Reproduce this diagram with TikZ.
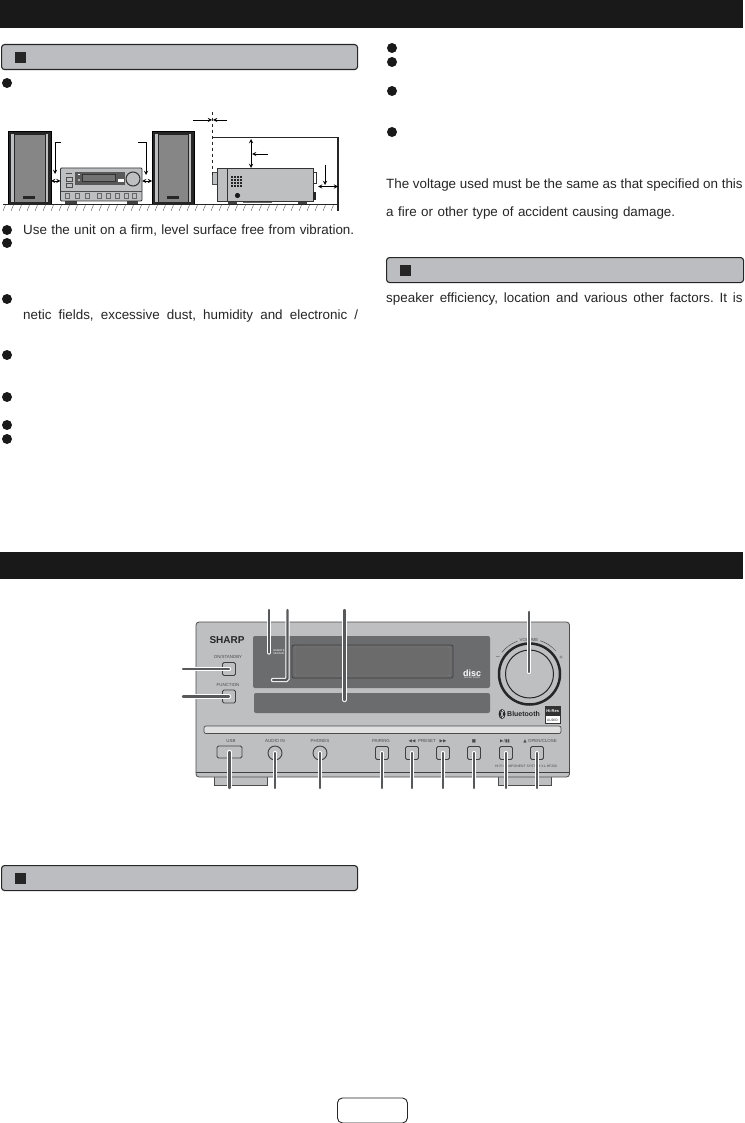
\documentclass[tikz,border=0pt]{standalone}
\usepackage{fontspec}
\setmainfont{Liberation Sans}
\newfontfamily\symfont{DejaVu Sans}
\usetikzlibrary{positioning}
\definecolor{bandgrey}{HTML}{BBBDC0}
\definecolor{panelgrey}{HTML}{BEBFC1}
\definecolor{dispgrey}{HTML}{6B6C6E}
\definecolor{leadgrey}{HTML}{58595B}
\tikzset{blackbar/.style={fill=black!90,anchor=north west,minimum width=743pt,minimum height=28pt,inner sep=0},
         header/.style={draw=black!85,fill=bandgrey,line width=1.1pt,rounded corners=3pt,anchor=north west,minimum height=25pt,inner sep=0},
         hsquare/.style={fill=black!85,minimum size=11pt,inner sep=0},
         bullet/.style={circle,fill=black!90,minimum size=10pt,inner sep=0},
         bodytext/.style={anchor=base west,inner sep=0,font=\frenchspacing\fontsize{13.4}{15}\selectfont,text=black!85},
         keybtn/.style={draw=black!75,fill=panelgrey,line width=.8pt,rounded corners=1.5pt,minimum width=13pt,minimum height=13pt,inner sep=0},
         jack/.style={circle,draw=black!75,fill=panelgrey,line width=.9pt,minimum size=14pt,inner sep=0},
         tinytext/.style={font=\fontsize{4.4}{5}\selectfont,text=black!70,inner sep=0},
         leader/.style={draw=white,double=leadgrey,double distance=2.4pt,line width=1pt,line cap=round,rounded corners=1.5pt},
         unitline/.style={draw=black!80,line width=.9pt}
}
\tikzstyle{arrow} = [line width=.9pt,->,>=stealth]
\tikzstyle{twoway} = [line width=.9pt,<->,>=stealth]

\begin{document}
\begin{tikzpicture}[x=1pt,y=-1pt]

\useasboundingbox[fill=white] (0,0) rectangle (744,1123);

% bars and headers
\node[blackbar] (topbar) at (0,0) {};
\node[blackbar,minimum height=27pt] (partsbar) at (0,552) {};
\node[header,minimum width=356pt] (headone) at (1,44) {};
\node[hsquare,right=14pt of headone.west] (squareone) {};
\node[header,minimum width=357pt] (headtwo) at (386,257) {};
\node[hsquare,right=14pt of headtwo.west] (squaretwo) {};
\node[header,minimum width=356pt] (headthree) at (1,865) {};
\node[hsquare,right=14pt of headthree.west] (squarethree) {};
\node[draw=black!85,line width=.9pt,rounded corners=5pt,minimum width=70pt,minimum height=25pt,anchor=north west] (pagebox) at (337,1097.5) {};

% bullets
\foreach \y [count=\i] in {83,230,243,299,355,397,425,439}
  \node[bullet] (bulletl\i) at (7,\y) {};
\foreach \y [count=\i] in {48,62,91,132}
  \node[bullet] (bulletr\i) at (392,\y) {};

% texts
\node[bodytext] (firm) at (23,235) {\makebox[331pt][s]{Use the unit on a firm, level surface free from vibration.}};
\node[bodytext] (netic) at (23,319) {\makebox[335pt][s]{netic fields, excessive dust, humidity and electronic /}};
\node[bodytext] (voltage) at (386,189) {\makebox[356.5pt][s]{The voltage used must be the same as that specified on this}};
\node[bodytext] (fire) at (386,217) {\makebox[289pt][s]{a fire or other type of accident causing damage.}};
\node[bodytext] (speaker) at (386,302) {\makebox[356.5pt][s]{speaker efficiency, location and various other factors. It is}};

% speakers
\draw[fill=black!85] (8,131) rectangle (51,204);
\draw[fill=panelgrey,draw=none] (11,134) rectangle (48,202);
\draw[fill=gray!95,draw=black!85,line width=.9pt] (14.5,134) rectangle (45,202);
\fill[black!85] (23,196) rectangle (35,199.5);
\draw[fill=black!85] (152,131) rectangle (194,204);
\draw[fill=panelgrey,draw=none] (155,134) rectangle (191,202);
\draw[fill=gray!95,draw=black!85,line width=.9pt] (158,134) rectangle (188,202);
\fill[black!85] (167,196) rectangle (179,199.5);

% small unit, front
\fill[black!75] (65,200) rectangle (77,204);
\fill[black!75] (127,200) rectangle (138,204);
\draw[unitline,fill=panelgrey,rounded corners=1pt] (60.5,168) rectangle (142,201);
\fill[black!65] (75,172) rectangle (125,185);
\draw[fill=black!55,draw=black!80] (82,174) rectangle (115,181);
\fill[white] (118,179) rectangle (124,182);
\fill[white] (78,174) rectangle (80,175.5);
\fill[white] (79,180) circle (.8pt);
\draw[fill=panelgrey,draw=black!80,line width=1pt] (133,179) circle (7pt);
\draw[black!70,line width=.4pt] (60.5,191) -- (142,191);
\draw[black!70,line width=.5pt] (66,173) -- (72,173) (66,177) rectangle (72,181) (66,183) rectangle (72,187);
\foreach \x in {67,77,87,99,108,117,126,134}
  \draw[black!60,line width=.4pt] (\x-2,193) rectangle (\x+2,198);

% small unit, side
\fill[black!75] (228,200) rectangle (237,204.5);
\fill[black!75] (298,200) rectangle (307,204.5);
\fill[black!60] (243,201) rectangle (272,203);
\draw[draw=black!70,fill=panelgrey] (212.5,172) rectangle (217,184);
\draw[unitline,fill=panelgrey] (217,168) rectangle (313,201);
\draw[black!80,line width=.5pt] (227,168) -- (227,201);
\foreach \x in {231,234,237,240}
  \foreach \y in {176,179,182,185}
    \fill[black!85] (\x,\y) rectangle (\x+2.2,\y+2.2);
\fill[black!90] (237.5,195.5) circle (2.6pt);
\draw[black!80,line width=.7pt] (313,172) rectangle (316,183);
\fill[black!85] (313,192) rectangle (316,200);

% floor and walls
\coordinate (floorl) at (3,204.5);
\coordinate (floorr) at (338,204.5);
\coordinate (shelfl) at (213,137.5);
\coordinate (shelfr) at (338,137.5);
\coordinate (wallend) at (338,211);
\draw[black!85,line width=.9pt] (floorl) -- (floorr);
\draw[black!85,line width=1.2pt] (shelfl) -- (shelfr) -- (wallend);
\foreach \x in {3,11,...,331}
  \draw[black!70,line width=.35pt] (\x,211) -- (\x+2.5,205);
\coordinate (dashtop) at (212.5,112);
\coordinate (dashend) at (212.5,175);
\draw[dashed,black!85,line width=.7pt] (dashtop) -- (dashend);

% clearance arrows
\coordinate (gapal) at (193,120);
\coordinate (gapar) at (227,120);
\draw[arrow] (gapal) -- (212,120);
\draw[arrow] (gapar) -- (213,120);
\coordinate (uptop) at (251,139);
\coordinate (upend) at (251,168);
\draw[twoway] (uptop) -- (upend);
\coordinate (tagup) at (268,154);
\draw[arrow] (tagup) -- (252,154);
\coordinate (tagl) at (61,142);
\draw[arrow] (tagl) -| (55,174);
\coordinate (tagr) at (138,142);
\draw[arrow] (tagr) -| (146,175);
\coordinate (tagback) at (325,165);
\draw[arrow] (tagback) -- (325,185);
\coordinate (spl) at (51,181);
\coordinate (unl) at (60.5,181);
\coordinate (unr) at (142,181);
\coordinate (spr) at (152,181);
\coordinate (backl) at (318,186.5);
\coordinate (backr) at (338,186.5);
\draw[twoway] (spl) -- (unl);
\draw[twoway] (unr) -- (spr);
\draw[twoway] (backl) -- (backr);

% front panel
\draw[draw=black!70,fill=panelgrey] (214,776) rectangle (267,785);
\draw[draw=black!70,fill=panelgrey] (498,776) rectangle (551,785);
\draw[draw=black!70,fill=panelgrey,line width=.8pt,rounded corners=3pt] (196,622) rectangle (569.5,777);
\draw[black!75,line width=.7pt] (196,772.5) -- (569.5,772.5);
\fill[dispgrey,rounded corners=2pt] (253,636) rectangle (490,688);
\draw[draw=black!75,fill=black!58,line width=.8pt,rounded corners=2pt] (292,645) rectangle (453,678);
\draw[draw=black!50,line width=.4pt,rounded corners=2pt] (295,647) rectangle (450,676);
\fill[dispgrey,rounded corners=2pt] (254,693) rectangle (490,713);
\draw[draw=black!70,fill=black!12,line width=.7pt,rounded corners=2pt] (204,726) rectangle (561,733.5);
\node[font=\bfseries\fontsize{10}{10}\selectfont,text=black!85,inner sep=0] (brand) at (227,640) {SHARP};
\node[tinytext] (labelon) at (228,656.5) {ON/STANDBY};
\node[tinytext] (labelfn) at (228,684.5) {FUNCTION};
\node[tinytext] (labelusb) at (231,741) {USB};
\node[tinytext] (labelaudio) at (275,741) {AUDIO IN};
\node[tinytext] (labelphones) at (320,741) {PHONES};
\node[tinytext] (labelpair) at (381,741) {PAIRING};
\node[tinytext] (labelprev) at (412,741) {\symfont◀◀};
\node[tinytext] (labelpreset) at (427,741) {PRESET};
\node[tinytext] (labelnext) at (443,741) {\symfont▶▶};
\node[tinytext] (labelstop) at (474,741) {\symfont■};
\node[tinytext] (labelplay) at (505,741) {\symfont▶/▮▮};
\node[tinytext] (labelopen) at (540,741) {\symfont▲\ \rmfamily OPEN/CLOSE};
\node[tinytext,font=\fontsize{3.4}{4}\selectfont] (model) at (526,766) {HI-FI COMPONENT SYSTEM XL-HF200};
\node[tinytext,font=\fontsize{2.6}{3}\selectfont,text=white,align=left] (sensor) at (279,652.5) {REMOTE\\SENSOR};
\node[inner sep=0,text=white,font=\bfseries\fontsize{9}{8}\selectfont] (disclogo) at (472,673) {disc};
\node[inner sep=0,text=white,font=\fontsize{2.2}{3}\selectfont,below=.5pt of disclogo] (disctext) {DIGITAL AUDIO};
\fill[black!85] (502,714) ellipse (3.4pt and 5pt);
\draw[white,line width=.4pt] (500.5,711.5) -- (503.5,716.5) -- (502,718) -- (502,710) -- (503.5,711.5) -- (500.5,716.5);
\node[inner sep=0,anchor=west,text=black!85,font=\bfseries\fontsize{7}{8}\selectfont] (bluetooth) at (507,714) {Bluetooth};
\draw[fill=white,draw=black!80,line width=.6pt] (545,706) rectangle (560,723);
\node[fill=black!80,text=white,inner sep=0,minimum width=15pt,minimum height=10pt,anchor=north west,font=\bfseries\fontsize{4}{5}\selectfont] (hires) at (545,706) {Hi-Res};
\node[inner sep=0,text=black!80,font=\fontsize{3.4}{4}\selectfont] (hiaudio) at (552.5,720) {AUDIO};

% knob
\coordinate (knobmid) at (529.5,674);
\draw[black!70,line width=.5pt] (knobmid) ++(-110:35) arc[start angle=-110,end angle=-142,radius=35];
\draw[black!70,line width=.5pt] (knobmid) ++(-41:35) arc[start angle=-41,end angle=-72,radius=35];
\node[tinytext] (labelvol) at (529,640) {VOLUME};
\node[tinytext,font=\fontsize{7}{7}\selectfont] (minus) at (498,658) {\textminus};
\node[tinytext,font=\fontsize{6}{6}\selectfont] (plus) at (561,658) {+};
\node[circle,draw=black!85,fill=panelgrey,line width=2.5pt,minimum size=61pt,inner sep=0] (knob) at (knobmid) {};
\node[circle,draw=black!85,line width=1pt,minimum size=48pt,inner sep=0] (knobtop) at (knobmid) {};

% keys and jacks
\node[keybtn] (onkey) at (229,669) {};
\node[keybtn] (fnkey) at (229,696.5) {};
\node[keybtn,minimum width=25pt,minimum height=12pt] (usbkey) at (229.5,752) {};
\node[jack] (audiojack) at (275,753) {};
\node[jack] (phonejack) at (320,753) {};
\node[keybtn] (pairkey) at (382,753) {};
\node[keybtn] (prevkey) at (412,753) {};
\node[keybtn] (nextkey) at (443,753) {};
\node[keybtn] (stopkey) at (474,753) {};
\node[keybtn] (playkey) at (506,753) {};
\node[keybtn] (openkey) at (537,753) {};

% leaders
\coordinate (topa) at (269,610);
\coordinate (enda) at (269,652.5);
\coordinate (topb) at (287.5,610);
\coordinate (endb) at (273,680);
\coordinate (topc) at (344.5,610);
\coordinate (endc) at (344.5,700);
\coordinate (topd) at (529,612);
\coordinate (endd) at (529,672);
\coordinate (stona) at (183,669);
\coordinate (stonb) at (183,696.5);
\draw[leader] (topa) -- (enda);
\draw[leader] (topb) |- (endb);
\draw[leader] (topc) -- (endc);
\draw[leader] (topd) -- (endd);
\draw[leader] (stona) -- (onkey.center);
\draw[leader] (stonb) -- (fnkey.center);
\foreach \key/\x in {usbkey/229.5,audiojack/275,phonejack/320,pairkey/382,prevkey/412,nextkey/443,stopkey/474,playkey/506,openkey/537}
  \draw[leader] (\x,788) -- (\key.center);

\end{tikzpicture}
\end{document}
